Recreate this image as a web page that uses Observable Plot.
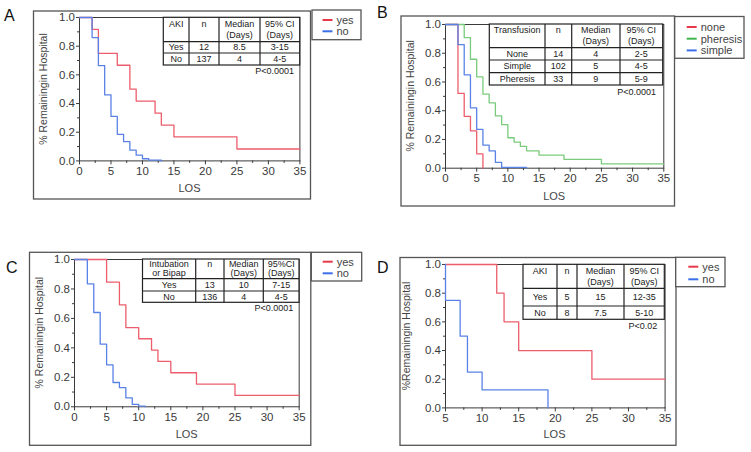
<!DOCTYPE html>
<html><head><meta charset="utf-8">
<script src="https://cdn.jsdelivr.net/npm/d3@7"></script>
<script src="https://cdn.jsdelivr.net/npm/@observablehq/plot@0.6"></script>
<style>
body{margin:0;background:#fff;}
#c{position:relative;width:751px;height:452px;overflow:hidden;background:#fff;font-family:"Liberation Sans",Arial,sans-serif;}
#c svg{position:absolute;}
</style></head><body><div id="c"></div>
<script>
// ---------- data ----------
// Panel A (AKI)
const aDaysYes = [0,2,3,6,8,9,12,13,15,25,35];
const aSurvYes = [1,0.917,0.75,0.667,0.5,0.417,0.333,0.25,0.167,0.083,0.083];
const aDaysNo  = [0,2,3,4,5,6,7,8,9,10,11,13];
const aSurvNo  = [1,0.86,0.665,0.46,0.31,0.185,0.135,0.075,0.04,0.015,0.005,0];
const aTableHead = [["AKI"],["n"],["Median","(Days)"],["95% CI","(Days)"]];
const aTableRows = [["Yes","12","8.5","3-15"],["No","137","4","4-5"]];
const aP = "P<0.0001";
const aLegend = ["yes","no"];

// Panel B (Transfusion)
const bDaysNone = [0,2,3,4,5,6];
const bSurvNone = [1,0.52,0.36,0.26,0.1,0];
const bDaysSimple = [0,2,3,4,5,6,7,8,9,13];
const bSurvSimple = [1,0.86,0.65,0.42,0.27,0.16,0.12,0.04,0.005,0];
const bDaysPheresis = [0,3,4,5,6,7,8,9,10,11,12,13,15,19,25,35];
const bSurvPheresis = [1,0.909,0.758,0.636,0.515,0.455,0.364,0.303,0.212,0.182,0.152,0.121,0.091,0.061,0.03,0.03];
const bTableHead = [["Transfusion"],["n"],["Median","(Days)"],["95% CI","(Days)"]];
const bTableRows = [["None","14","4","2-5"],["Simple","102","5","4-5"],["Pheresis","33","9","5-9"]];
const bP = "P<0.0001";
const bLegend = ["none","pheresis","simple"];

// Panel C (Intubation or Bipap)
const cDaysYes = [0,5,7,8,10,12,13,15,19,25,35];
const cSurvYes = [1,0.846,0.692,0.538,0.462,0.385,0.308,0.231,0.154,0.077,0.077];
const cDaysNo  = [0,2,3,4,5,6,7,8,9,10,11];
const cSurvNo  = [1,0.835,0.64,0.425,0.285,0.165,0.13,0.06,0.016,0.005,0];
const cTableHead = [["Intubation","or Bipap"],["n"],["Median","(Days)"],["95%CI","(Days)"]];
const cTableRows = [["Yes","13","10","7-15"],["No","136","4","4-5"]];
const cP = "P<0.0001";
const cLegend = ["yes","no"];

// Panel D (AKI subset)
const dDaysYes = [5,12,13,15,25,35];
const dSurvYes = [1,0.8,0.6,0.4,0.2,0.2];
const dDaysNo  = [5,5,7,8,10,19];
const dSurvNo  = [1,0.75,0.5,0.25,0.125,0];
const dTableHead = [["AKI"],["n"],["Median","(Days)"],["95% CI","(Days)"]];
const dTableRows = [["Yes","5","15","12-35"],["No","8","7.5","5-10"]];
const dP = "P<0.02";
const dLegend = ["yes","no"];

const xTicks = [0,5,10,15,20,25,30,35];
const xMinorTicks = [2.5,7.5,12.5,17.5,22.5,27.5,32.5];
const dxTicks = [5,10,15,20,25,30,35];
const dxMinorTicks = [7.5,12.5,17.5,22.5,27.5,32.5];
const yTicks = [0,0.2,0.4,0.6,0.8,1.0];
const yMinorTicks = [0.1,0.3,0.5,0.7,0.9];

// ---------- styles ----------
const RED = "#ec5e6c", BLUE = "#5a82e6", GREEN = "#7acb7c";
const LRED = "#e8394a", LBLUE = "#3b6fe8", LGREEN = "#3fb64f";
const FONT = "Liberation Sans, Arial, sans-serif";

const panels = [
  {letter:"A", letterPos:[4,21], box:[33.5,11,310.5,199], plot:[79.3,17.3,299.7,160.7], xdom:[0,35], xt:xTicks, xm:xMinorTicks,
   ytitle:"% Remainingin Hospital", ytx:43.3, xty:188,
   series:[{d:aDaysYes,s:aSurvYes,c:RED},{d:aDaysNo,s:aSurvNo,c:BLUE}],
   legend:{box:[312,10,361,39.7], x:322.5, y0:20, dy:11.3, items:aLegend, colors:[LRED,LBLUE]},
   table:{cols:[163.3,189,219,260,299.7], rows:[17.3,41.7,53,65], head:aTableHead, body:aTableRows},
   p:{text:aP, x:294, y:71}},
  {letter:"B", letterPos:[377,18], box:[401,16,674.5,206], plot:[445,24,663.3,167.7], xdom:[0,35], xt:xTicks, xm:xMinorTicks,
   ytitle:"% Remainingin Hospital", ytx:410, xty:195.7,
   series:[{d:bDaysPheresis,s:bSurvPheresis,c:GREEN},{d:bDaysNone,s:bSurvNone,c:RED},{d:bDaysSimple,s:bSurvSimple,c:BLUE}],
   legend:{box:[674.7,16.5,744,58.3], x:686.7, y0:27, dy:11.7, items:bLegend, colors:[LRED,LGREEN,LBLUE]},
   table:{cols:[489.3,545,571.7,620,662.7], rows:[24,47.7,60,72.7,85], head:bTableHead, body:bTableRows},
   p:{text:bP, x:656, y:91.5}},
  {letter:"C", letterPos:[6,273], box:[29.5,252.3,310.8,445.3], plot:[74.3,259,299,406.3], xdom:[0,35], xt:xTicks, xm:xMinorTicks,
   ytitle:"% Remainingin Hospital", ytx:39, xty:434.3,
   series:[{d:cDaysYes,s:cSurvYes,c:RED},{d:cDaysNo,s:cSurvNo,c:BLUE}],
   legend:{box:[311.3,252.3,361.7,281], x:322.7, y0:261.7, dy:11.6, items:cLegend, colors:[LRED,LBLUE]},
   table:{cols:[142.5,195.7,224,263.3,299], rows:[259,278.7,291,302.3], head:cTableHead, body:cTableRows},
   p:{text:cP, x:293.3, y:307.8}},
  {letter:"D", letterPos:[377,273], box:[400,257.5,676,445.3], plot:[444.7,264.3,664.3,407.7], xdom:[5,35], xt:dxTicks, xm:dxMinorTicks,
   ytitle:"%Remainingin Hospital", ytx:405.5, xty:434.3,
   series:[{d:dDaysYes,s:dSurvYes,c:RED},{d:dDaysNo,s:dSurvNo,c:BLUE}],
   legend:{box:[675.7,257.3,725,286.7], x:688.3, y0:266.7, dy:12.6, items:dLegend, colors:[LRED,LBLUE]},
   table:{cols:[523,557,577,624,664.3], rows:[264.3,288.3,306,319.3], head:dTableHead, body:dTableRows},
   p:{text:dP, x:657.3, y:325.5}}
];

const container = document.getElementById("c");

// ---------- plots ----------
for (const p of panels) {
  const mL = 40, mT = 6, mR = 6, mB = 24;
  const [x0,y0,x1,y1] = p.plot;
  const chart = Plot.plot({
    width: (x1-x0)+mL+mR, height: (y1-y0)+mT+mB,
    marginLeft: mL, marginTop: mT, marginRight: mR, marginBottom: mB,
    x: {domain: p.xdom, label: null},
    y: {domain: [0,1], label: null},
    style: {background: "transparent", fontFamily: FONT, fontSize: "11.5px", color: "#3a3a3a", overflow: "visible"},
    marks: [
      Plot.frame({stroke: "#3a3a3a", strokeWidth: 1}),
      Plot.axisX({ticks: p.xt, tickSize: 4, tickPadding: 2, tickFormat: d => String(d), label: null}),
      Plot.axisX({ticks: p.xm, tickSize: 2.5, tickFormat: () => "", label: null}),
      Plot.axisY({ticks: yTicks, tickSize: 3, tickPadding: 1.5, tickFormat: d => d.toFixed(1), label: null}),
      Plot.axisY({ticks: yMinorTicks, tickSize: 2, tickFormat: () => "", label: null}),
      ...p.series.map(s => Plot.line(s.d.map((d,i) => ({day: d, surv: s.s[i]})),
        {x: "day", y: "surv", curve: "step-after", stroke: s.c, strokeWidth: 1.3}))
    ]
  });
  chart.style.left = (x0-mL) + "px";
  chart.style.top = (y0-mT) + "px";
  container.appendChild(chart);
}

// ---------- overlay: boxes, tables, legends, titles ----------
const ov = d3.select(container).append("svg")
  .attr("width", 751).attr("height", 452)
  .style("left","0px").style("top","0px")
  .attr("font-family", FONT);

for (const p of panels) {
  const [bx0,by0,bx1,by1] = p.box;
  ov.append("rect").attr("x",bx0).attr("y",by0).attr("width",bx1-bx0).attr("height",by1-by0)
    .attr("fill","none").attr("stroke","#555").attr("stroke-width",1.3);
  ov.append("text").attr("x",p.letterPos[0]).attr("y",p.letterPos[1]).attr("font-size",16).attr("fill","#111").text(p.letter);
  const [x0,y0,x1,y1] = p.plot;
  ov.append("text").attr("transform",`translate(${p.ytx},${(y0+y1)/2}) rotate(-90)`)
    .attr("text-anchor","middle").attr("dominant-baseline","central")
    .attr("font-size",10.5).attr("fill","#444").text(p.ytitle);
  ov.append("text").attr("x",(x0+x1)/2).attr("y",p.xty).attr("text-anchor","middle").attr("dominant-baseline","central")
    .attr("font-size",11).attr("fill","#444").text("LOS");
  // legend
  const L = p.legend;
  ov.append("rect").attr("x",L.box[0]).attr("y",L.box[1]).attr("width",L.box[2]-L.box[0]).attr("height",L.box[3]-L.box[1])
    .attr("fill","#fff").attr("stroke","#555").attr("stroke-width",1.3);
  L.items.forEach((name,i) => {
    const y = L.y0 + i*L.dy;
    ov.append("line").attr("x1",L.x).attr("x2",L.x+10).attr("y1",y).attr("y2",y).attr("stroke",L.colors[i]).attr("stroke-width",2);
    ov.append("text").attr("x",L.x+14).attr("y",y).attr("dominant-baseline","central")
      .attr("font-size",11).attr("fill","#444").text(name);
  });
  // table
  const T = p.table, cols = T.cols, rows = T.rows;
  ov.append("rect").attr("x",cols[0]).attr("y",rows[0]).attr("width",cols[cols.length-1]-cols[0]).attr("height",rows[rows.length-1]-rows[0])
    .attr("fill","#fff").attr("stroke","#222").attr("stroke-width",1.2);
  cols.slice(1,-1).forEach(c => ov.append("line").attr("x1",c).attr("x2",c).attr("y1",rows[0]).attr("y2",rows[rows.length-1]).attr("stroke","#222").attr("stroke-width",1.2));
  rows.slice(1,-1).forEach(r => ov.append("line").attr("x1",cols[0]).attr("x2",cols[cols.length-1]).attr("y1",r).attr("y2",r).attr("stroke","#222").attr("stroke-width",1.2));
  const hh = rows[1]-rows[0];
  T.head.forEach((lines,j) => {
    const cx = (cols[j]+cols[j+1])/2;
    lines.forEach((t,k) => {
      ov.append("text").attr("x",cx).attr("y",rows[0] + hh*(k===0?0.27:0.73)).attr("text-anchor","middle")
        .attr("dominant-baseline","central").attr("font-size",9).attr("fill","#222").text(t);
    });
  });
  T.body.forEach((row,i) => {
    row.forEach((t,j) => {
      ov.append("text").attr("x",(cols[j]+cols[j+1])/2).attr("y",(rows[i+1]+rows[i+2])/2).attr("text-anchor","middle")
        .attr("dominant-baseline","central").attr("font-size",9).attr("fill","#222").text(t);
    });
  });
  ov.append("text").attr("x",p.p.x).attr("y",p.p.y).attr("text-anchor","end").attr("dominant-baseline","central")
    .attr("font-size",9).attr("fill","#222").text(p.p.text);
}
</script></body></html>
